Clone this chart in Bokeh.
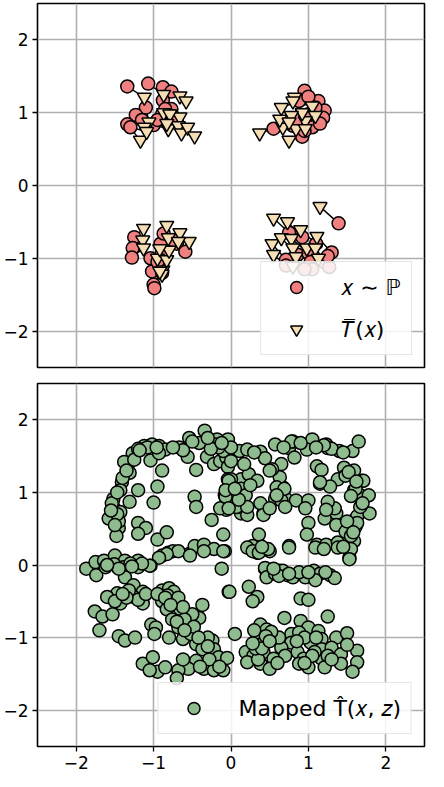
from bokeh.plotting import figure
from bokeh.layouts import column
from bokeh.models import FixedTicker, Range1d, Legend, LegendItem, ColumnDataSource
from bokeh.embed import file_html
from bokeh.resources import INLINE

# ---------------- data ----------------
tick_vals = [-2, -1, 0, 1, 2]
tick_labels = ["−2", "−1", "0", "1", "2"]

# top panel: samples x ~ P (circles) and their images T̄(x) (triangles), paired by index
src_x = [-1.34, -1.07, -0.88, -0.77, -0.88, -1.10, -1.23, -1.34, -1.30, -1.00, -0.77, -0.89, -0.85, -0.95, -1.15, -0.75, -0.70,
         0.95, 1.13, 1.21, 1.19, 0.92, 0.55, 1.05, 0.88, 1.00, 0.80, 1.09, 1.00, 1.15, 0.85, 0.95,
         -1.25, -1.27, -1.28, -1.04, -1.02, -1.00, -0.99, -0.89, -0.91, -0.87, -0.70, -0.59, -0.90, -0.95, -0.75,
         1.39, 0.75, 0.92, 1.10, 1.30, 0.71, 0.86, 1.00, 0.71, 1.03, 1.20, 1.27, 1.05, 0.95, 1.25]
src_y = [1.36, 1.40, 1.35, 1.29, 1.17, 1.07, 0.97, 0.84, 0.80, 0.83, 1.05, 0.98, 1.05, 0.90, 0.90, 0.95, 0.88,
         1.30, 1.16, 1.03, 0.93, 0.67, 0.78, 0.80, 1.16, 0.98, 0.82, 1.07, 1.22, 0.85, 0.90, 0.75,
         -0.71, -0.86, -0.99, -1.00, -1.18, -1.36, -1.41, -1.20, -0.80, -0.66, -0.80, -0.91, -0.95, -1.05, -0.75,
         -0.52, -0.65, -0.71, -0.80, -0.92, -1.02, -0.95, -0.93, -1.10, -1.05, -1.05, -1.12, -1.15, -1.15, -0.97]
map_x = [-1.12, -0.87, -0.66, -0.58, -0.87, -1.06, -1.12, -1.17, -1.09, -0.81, -0.66, -0.79, -0.68, -0.64, -0.83, -0.56, -0.47,
         0.82, 1.05, 1.09, 0.96, 0.75, 0.37, 0.84, 0.65, 0.92, 0.67, 0.80, 0.78, 0.96, 0.63, 0.75,
         -1.13, -1.14, -1.13, -0.95, -0.88, -0.89, -0.92, -0.83, -0.81, -0.83, -0.66, -0.54, -0.80, -0.92, -0.68,
         1.15, 0.55, 0.73, 0.90, 1.11, 0.53, 0.65, 0.78, 0.55, 0.80, 0.98, 1.09, 0.84, 0.80, 1.13]
map_y = [1.21, 1.25, 1.23, 1.16, 1.00, 0.87, 0.80, 0.62, 0.74, 0.78, 0.94, 0.98, 0.82, 0.72, 0.85, 0.80, 0.68,
         1.21, 1.09, 0.96, 0.89, 0.62, 0.72, 0.78, 1.07, 1.00, 0.80, 1.16, 0.96, 0.78, 0.91, 0.87,
         -0.59, -0.75, -0.86, -1.00, -1.16, -1.22, -1.18, -1.02, -0.72, -0.55, -0.65, -0.77, -0.89, -0.87, -0.77,
         -0.29, -0.45, -0.50, -0.61, -0.70, -0.80, -0.72, -0.73, -0.95, -0.86, -0.86, -0.86, -0.98, -1.11, -1.00]

# bottom panel: mapped samples T̂(x, z)
gen_x = [-1.27, -1.12, -1.02, -0.93, -0.85, -1.04, -0.93, -0.89, -0.67, -0.54, -0.34, -0.41, -0.56, -0.45, -0.18, -0.04,
         -0.20, -0.31, -0.22, -0.14, -0.06, -0.04, 0.11, 0.21, 0.38, 0.44, 0.57, 0.75, 0.82, 0.80, 0.98, 1.05, 1.23, 1.25,
         1.40, 1.57, 1.65, 1.11, 1.17, 1.46, 1.59, 1.38, 1.48, 1.69, 1.15, 1.28, 1.59, 1.67, 1.78,
         -1.20, -1.08, -0.96, -0.50, -0.10, -0.16, -0.26, 0.78, 0.98, 1.30, 1.20, 0.00, -0.62,
         0.13, 0.23, 0.34, 0.13, 0.19, -0.04, -0.08, -0.06, -0.14, 0.13, 0.21, 0.09, 0.42, 0.38, 0.57, 0.67, 0.63, 0.65,
         0.53, 0.71, 0.84, 1.00, 0.96, 1.00, 0.98, 0.75, 1.11, 1.23, 1.38, 1.36, 1.34, 1.25, 1.21, 1.36, 1.48, 1.59,
         1.53, 1.63, 1.79, 1.67, 1.61, 1.55, 0.00, 0.17, 0.00, 0.00, 0.07, 0.21, 0.42, 0.65, 0.59, 0.69, 0.59, 0.36,
         0.28, 1.71, 1.61, 1.15, 1.23, 1.63, 0.50,
         -1.33, -1.31, -1.41, -1.43, -1.52, -1.52, -1.43, -1.58, -1.45, -1.48, -1.20, -1.31, -1.20, -1.10, -1.20,
         -0.95, -1.00, -0.95, -0.83, -0.47, -0.45, -0.25, -0.10, -1.45, -0.07, -0.03, -0.03, -0.07, -1.38, -1.47, -1.54,
         -0.89, -0.81, -0.75, -0.54, -0.47, -0.35, -0.22, -0.08, -0.12, 0.21, 0.34, 0.50, 0.44, 0.63, -0.68, -0.53,
         -0.35, -0.10, -0.83, -0.93, 0.28, 0.36, 0.48, 0.75, 1.09, 1.20, 1.38, 1.55, 1.53, 0.40,
         -1.87, -1.75, -1.64, -1.50, -1.37, -1.20, -1.04, -1.74, -1.62, -1.51, -1.39, -1.37, -1.20, -1.05, -1.30,
         -1.15, -1.45,
         -1.26, -1.14, -1.47, -1.60, -1.43, -1.26, -1.14, -1.76, -1.66, -1.53, -1.70, -1.45, -1.37, -1.24, -1.03,
         -0.97, -0.99, -0.89, -0.80, -0.74, -0.89, -0.74, -0.83, -0.76, -0.68, -0.55, -0.41, -0.37, -0.62, -0.45,
         -0.37, -0.24, -0.22, -0.16, -0.45, -0.35, -0.22, -0.10, -0.55, -0.68, -0.70, -1.14, -1.01, -0.95, -0.85,
         -0.03, -1.32, -1.20, -1.35, -0.82, -0.66, -0.50, -0.60, -0.52, -0.30, -0.28, -0.05, -0.62, -0.80, -1.05,
         -1.10, -0.95, -0.68, -0.62, -0.48, -0.70,
         0.44, 0.46, 0.57, 0.67, 0.73, 0.80, 0.96, 1.07, 1.15, 1.28, 1.34, 1.09, 0.88, 0.62, -0.02, 0.23, 0.34, 0.28,
         0.90, 1.00, 0.69, 1.25, 0.90, 1.00, 0.38, 0.46, 0.05, 0.34, 0.42, 0.78, 0.88, 1.13, 1.17, 1.36, 1.50, 1.03,
         0.78, 0.65, 0.19, 0.29, 0.42, 0.55, 0.38, 0.86, 0.94, 1.00, 0.88, 1.17, 1.17, 1.30, 1.42, 1.42, 1.63, 1.63,
         1.57, 1.21, 0.50, 0.21, 0.35, 0.62, 0.95, 1.08, 0.70, 1.25, 0.32, 0.52, 0.45, 0.30,
         -1.40, -1.47, -1.55, -1.50, -1.35, -1.25, -1.18, -0.75, -0.30, -0.12, 0.30, 0.68, 0.90, 1.10, 1.45,
         1.52, 1.62, 1.55, 1.70, 1.50, 1.58, 1.45, 0.10, 0.05, 0.25, 0.70, 0.50,
         -1.60, -1.28, 0.55, 0.75, 1.00, 1.22,
         -1.50, -1.40, -0.85, -0.78, -0.60, -0.42, -0.30, -0.40, -0.15,
         0.40, 0.50, 0.85, 1.05, 1.30, 1.50, 0.60, 0.28, 1.10, 0.95]
gen_y = [1.54, 1.64, 1.66, 1.64, 1.59, 1.44, 1.54, 1.30, 1.62, 1.75, 1.85, 1.68, 1.49, 1.31, 1.73, 1.73,
         1.66, 1.49, 1.39, 1.43, 1.48, 1.35, 1.57, 1.59, 1.56, 1.47, 1.66, 1.61, 1.48, 1.70, 1.64, 1.73, 1.66, 1.61,
         1.57, 1.57, 1.70, 1.36, 1.31, 1.34, 1.30, 1.18, 1.23, 1.16, 1.12, 1.08, 1.03, 0.96, 0.96,
         1.60, 1.62, 1.62, 1.70, 1.57, 1.62, 1.60, 1.70, 1.59, 1.60, 1.65, 1.62, 1.58,
         1.18, 1.25, 1.16, 1.05, 0.96, 1.18, 0.96, 0.76, 0.78, 0.71, 0.69, 0.80, 0.71, 0.85, 0.91, 1.07, 1.21, 1.39,
         1.32, 0.91, 0.89, 0.89, 0.78, 0.58, 0.42, 0.26, 0.28, 0.28, 0.31, 0.71, 0.78, 0.87, 0.64, 0.55, 0.46, 0.33,
         0.10, 0.67, 0.71, 0.80, 0.53, 0.40, 1.43, 1.39, 1.18, 0.94, 0.80, 0.80, 0.69, 0.89, 1.07, 1.05, 0.96, 0.42,
         0.26, 1.16, 1.05, 1.14, 0.76, 0.58, 1.30,
         1.39, 1.27, 1.14, 1.03, 0.91, 0.80, 0.73, 0.64, 0.51, 0.40, 1.03, 0.87, 0.58, 0.51, 0.43,
         1.08, 0.86, 0.35, 0.45, 0.94, 0.80, 0.62, 0.42, 0.60, 0.94, 0.78, 1.16, 1.03, 1.42, 0.70, 0.85,
         0.13, 0.17, 0.19, 0.15, 0.26, 0.28, 0.22, 0.19, -0.05, 0.24, 0.17, 0.19, -0.05, -0.08, 0.19, 0.13,
         0.19, 0.19, 0.15, 0.10, 0.19, 0.17, 0.22, 0.24, 0.24, 0.22, 0.24, 0.22, 0.08, 0.25,
         -0.05, 0.04, 0.06, 0.13, 0.06, 0.06, -0.01, -0.14, -0.03, 0.01, -0.03, -0.17, -0.03, -0.01, 0.02,
         0.02, -0.05,
         -0.28, -0.37, -0.39, -0.44, -0.53, -0.44, -0.53, -0.64, -0.71, -0.68, -0.90, -0.98, -1.04, -1.00, -0.82,
         -0.86, -0.95, -0.35, -0.32, -0.37, -0.50, -0.50, -0.61, -0.75, -0.86, -0.82, -0.73, -0.55, -1.02, -1.09,
         -1.16, -1.04, -1.16, -1.27, -1.32, -1.43, -1.45, -1.45, -1.43, -1.45, -1.56, -1.36, -1.27, -1.47, -1.41,
         -0.37, -0.35, -0.48, -0.45, -0.42, -0.60, -0.68, -0.75, -0.95, -1.00, -1.30, -1.28, -1.30, -1.00, -1.45,
         -0.40, -0.40, -0.45, -0.58, -0.85, -0.78,
         -0.04, -0.17, -0.12, -0.08, -0.14, -0.17, -0.17, -0.08, -0.12, -0.14, -0.18, -0.21, -0.10, -0.15, -0.37, -0.30, -0.44, -0.50,
         -0.46, -0.48, -0.73, -0.71, -0.77, -0.86, -0.82, -0.89, -0.95, -1.00, -1.07, -0.95, -0.93, -0.91, -1.02, -1.00, -0.94, -1.07,
         -1.07, -1.14, -1.20, -1.25, -1.20, -1.29, -1.36, -1.20, -1.29, -1.41, -1.36, -1.16, -1.29, -1.14, -1.23, -1.36, -1.18, -1.34,
         -1.47, -1.41, -1.43, -1.34, -1.30, -1.00, -1.00, -1.20, -1.25, -1.25, -1.15, -0.92, -0.98, -0.90,
         1.20, 1.00, 0.75, 0.55, 1.30, 1.45, 1.58, 1.62, 1.75, 1.68, 1.55, 1.62, 1.68, 1.62, 1.55,
         1.28, 1.15, 0.95, 0.85, 0.60, 0.45, 0.25, 0.90, 1.05, 1.10, 0.80, 0.78,
         0.00, -0.02, -0.05, -0.12, -0.10, -0.10,
         -0.50, -0.40, -0.45, -0.55, -0.90, -1.00, -1.12, -1.40, -1.40,
         -1.15, -1.05, -1.05, -1.25, -1.30, -1.10, -1.35, -1.08, -1.00, -1.35]

label_src = "𝑥 ∼ ℙ"
label_map = "𝑇̅(𝑥)"
label_gen = "Mapped T̂(𝑥, 𝑧)"

RED = "#F08080"
WHEAT = "#F5DEB3"
GREEN = "#8FBC8F"
FONT = "DejaVu Sans"


def style(p, show_x):
    p.outline_line_color = "black"
    p.outline_line_width = 1.6
    p.outline_line_alpha = 1.0
    for ax in (p.xaxis[0], p.yaxis[0]):
        ax.ticker = FixedTicker(ticks=tick_vals)
        ax.major_label_overrides = {v: s for v, s in zip(tick_vals, tick_labels)}
        ax.major_label_text_font = FONT
        ax.major_label_text_font_size = "17px"
        ax.major_label_text_color = "black"
        ax.major_tick_out = 5
        ax.major_tick_in = 0
        ax.major_tick_line_width = 1.3
        ax.major_tick_line_color = "black"
        ax.minor_tick_line_color = None
        ax.axis_line_color = None
        ax.major_label_standoff = 4
    p.xaxis.visible = show_x
    for g in (p.xgrid[0], p.ygrid[0]):
        g.ticker = FixedTicker(ticks=tick_vals)
        g.grid_line_color = "#b0b0b0"
        g.grid_line_width = 1.6


def style_legend(lg):
    lg.location = "bottom_right"
    lg.label_text_font = FONT
    lg.label_text_font_size = "22px"
    lg.label_text_color = "black"
    lg.border_line_color = "#cccccc"
    lg.border_line_width = 1.5
    lg.background_fill_color = "white"
    lg.background_fill_alpha = 0.85
    lg.padding = 10
    lg.spacing = 12
    lg.margin = 12
    lg.glyph_width = 50
    lg.glyph_height = 30
    lg.label_standoff = 20


# ---------------- top panel ----------------
top = figure(width=428, height=375, x_range=Range1d(-2.5, 2.5), y_range=Range1d(-2.5, 2.5),
             output_backend="svg", toolbar_location=None,
             min_border_top=3, min_border_bottom=8, min_border_right=4, min_border_left=0)
style(top, False)

pair_src = ColumnDataSource(dict(x0=src_x, y0=src_y, x1=map_x, y1=map_y))
top.segment(x0="x0", y0="y0", x1="x1", y1="y1", source=pair_src, line_color="black", line_width=1.4)
r_src = top.scatter(src_x, src_y, marker="circle", size=13, fill_color=RED, line_color="black", line_width=1.5)
r_map = top.scatter(map_x, map_y, marker="inverted_triangle", size=14, fill_color=WHEAT, line_color="black",
                    line_width=1.5)

lg_top = Legend(items=[LegendItem(label=label_src, renderers=[r_src]),
                       LegendItem(label=label_map, renderers=[r_map])])
style_legend(lg_top)
top.add_layout(lg_top)

# ---------------- bottom panel ----------------
bot = figure(width=428, height=396, x_range=Range1d(-2.5, 2.5), y_range=Range1d(-2.5, 2.5),
             output_backend="svg", toolbar_location=None,
             min_border_top=8, min_border_bottom=0, min_border_right=4, min_border_left=0)
style(bot, True)

r_gen = bot.scatter(gen_x, gen_y, marker="circle", size=13, fill_color=GREEN, line_color="black", line_width=1.5)
lg_bot = Legend(items=[LegendItem(label=label_gen, renderers=[r_gen])])
style_legend(lg_bot)
bot.add_layout(lg_bot)

layout = column(top, bot, spacing=0)
open("out.html", "w").write(file_html(layout, INLINE))
